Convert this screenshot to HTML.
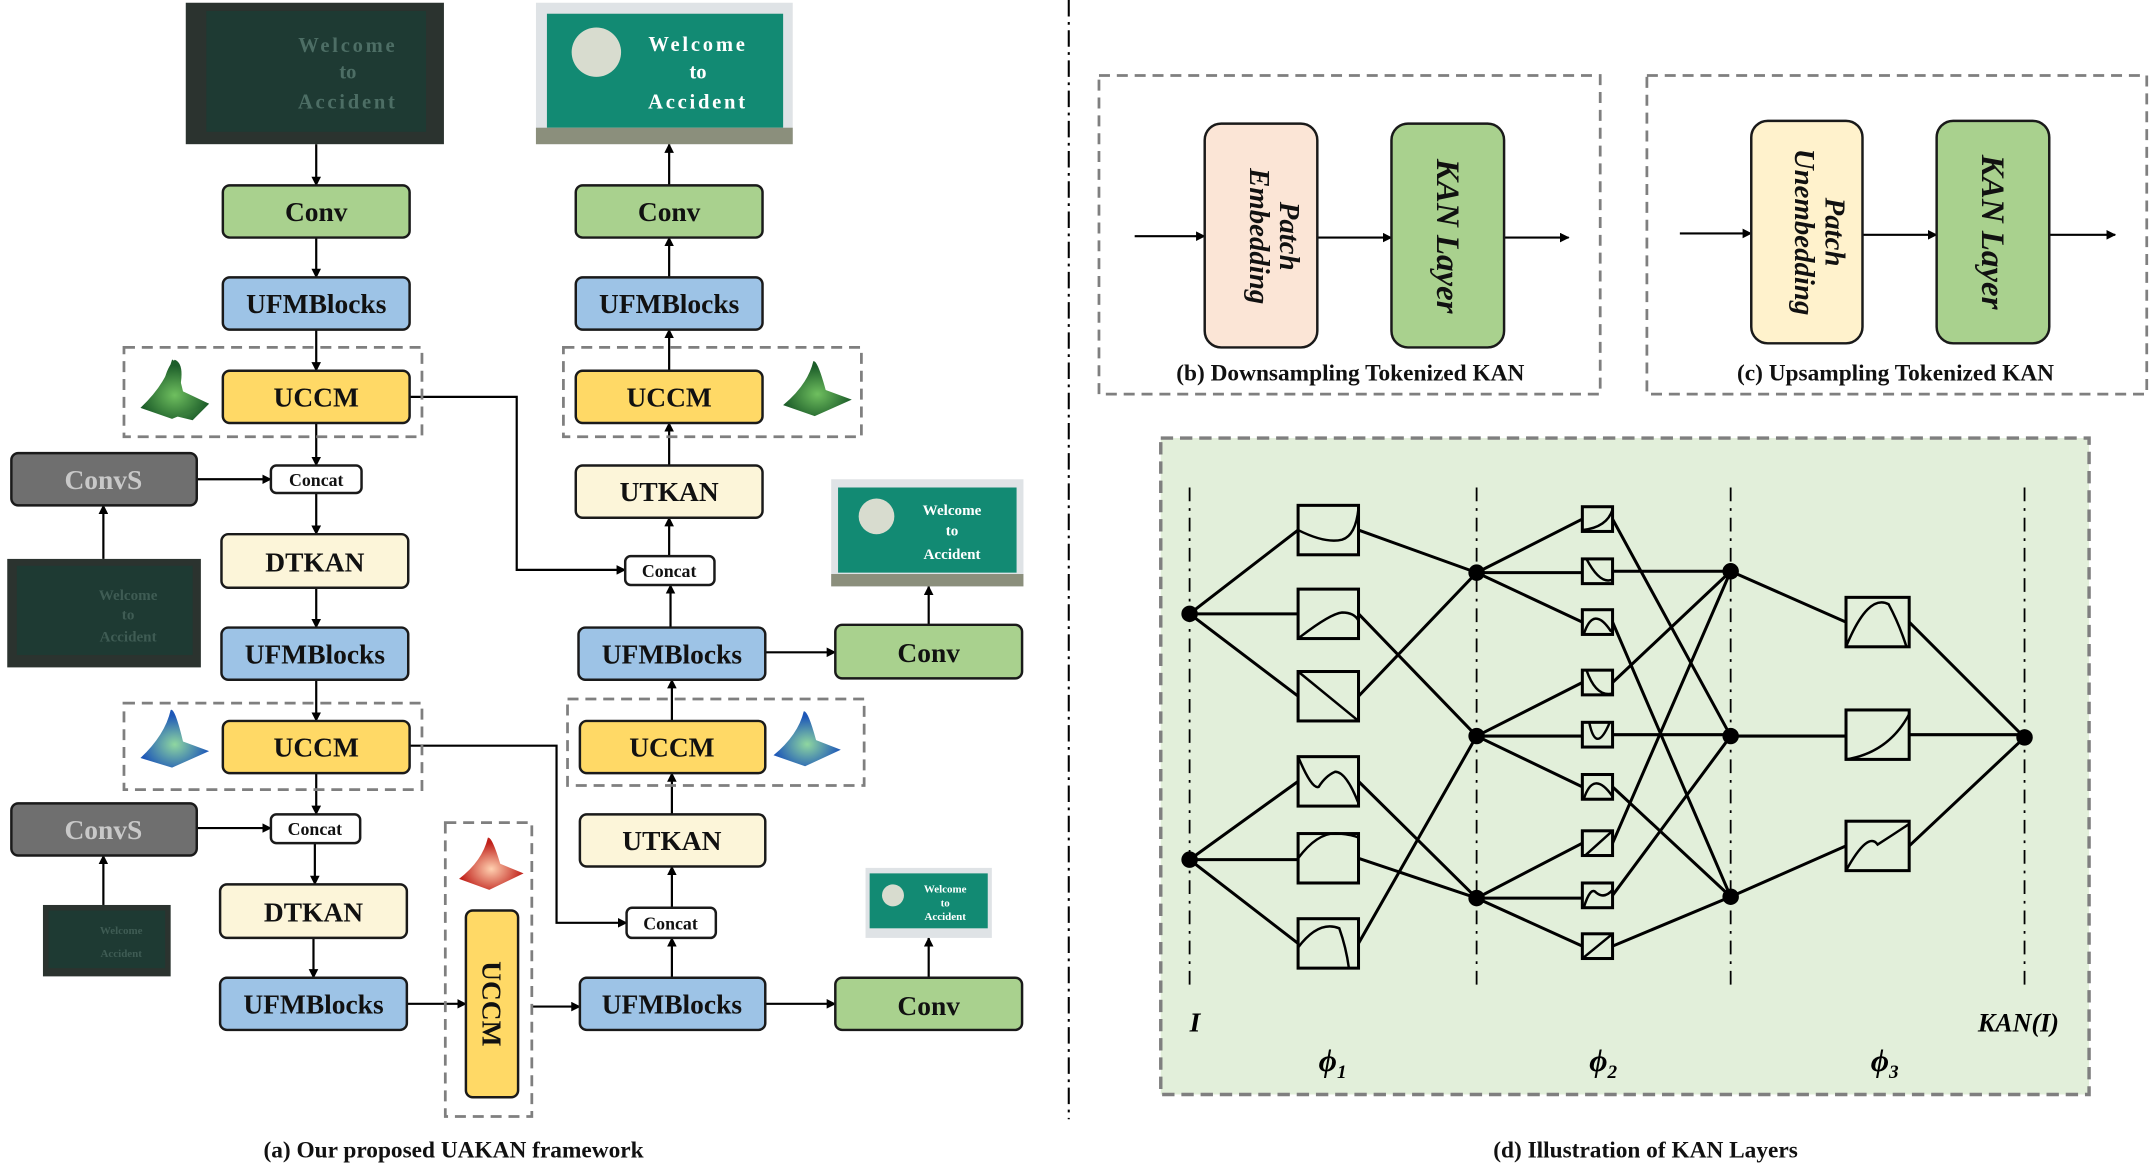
<!DOCTYPE html>
<html><head><meta charset="utf-8"><style>
html,body{margin:0;padding:0;background:#fff}
svg{display:block}
text{font-family:"Liberation Serif",serif;font-weight:bold}
</style></head><body>
<svg width="2154" height="1170" viewBox="0 0 1568 852" xmlns="http://www.w3.org/2000/svg">
<defs>
<marker id="a" viewBox="0 0 10 10" refX="9" refY="5" markerWidth="7" markerHeight="7" orient="auto" markerUnits="userSpaceOnUse"><path d="M0,0L10,5L0,10z" fill="#000"/></marker>
<radialGradient id="gg" cx="50%" cy="60%" r="50%"><stop offset="0" stop-color="#6fbf5f"/><stop offset="1" stop-color="#1d5e2a"/></radialGradient>
<radialGradient id="gb" cx="50%" cy="60%" r="50%"><stop offset="0" stop-color="#8fd7a0"/><stop offset="1" stop-color="#1e58b8"/></radialGradient>
<radialGradient id="gr" cx="50%" cy="60%" r="50%"><stop offset="0" stop-color="#ffd0b0"/><stop offset="1" stop-color="#c0201a"/></radialGradient>
</defs>
<g stroke="#000" stroke-width="1.6" fill="none" marker-end="url(#a)">
<!-- left column -->
<path d="M230,105V135"/><path d="M230,173V202"/><path d="M230,240V270"/><path d="M230,308V339"/>
<path d="M143,349H197"/><path d="M75,407V368"/><path d="M230,359V389"/><path d="M230,428V457"/>
<path d="M230,495V525"/><path d="M230,563V593"/><path d="M143,603H197"/><path d="M75,659V623"/>
<path d="M229,614V644"/><path d="M228,683V712"/><path d="M296,731H339"/><path d="M387,733H422"/>
<path d="M298,289H376V415H455"/><path d="M298,543H405V672H456"/>
<!-- middle column -->
<path d="M487,135V105"/><path d="M487,202V173"/><path d="M487,270V240"/><path d="M487,339V308"/>
<path d="M487,405V377"/><path d="M488,457V426"/><path d="M557,475H608"/><path d="M676,455V427"/>
<path d="M489,525V495"/><path d="M489,593V563"/><path d="M489,661V631"/><path d="M489,712V683"/>
<path d="M557,731H608"/><path d="M676,712V683"/>
<!-- b, c -->
<path d="M826,172H877"/><path d="M959,173H1013"/><path d="M1095,173H1142"/>
<path d="M1223,170H1275"/><path d="M1356,171H1410"/><path d="M1492,171H1540"/>
</g>
<!-- images -->
<g font-family="Liberation Sans" font-weight="bold">
<rect x="135" y="2" width="188" height="103" fill="#2b332f"/><rect x="150" y="8" width="160" height="88" fill="#1e3a33"/>
<text x="253" y="38" fill="#4d6e65" font-size="15" text-anchor="middle" letter-spacing="2">Welcome</text><text x="253" y="57" fill="#4d6e65" font-size="15" text-anchor="middle">to</text><text x="253" y="79" fill="#4d6e65" font-size="15" text-anchor="middle" letter-spacing="2">Accident</text>
<rect x="390" y="2" width="187" height="103" fill="#dfe3e6"/><rect x="398" y="10" width="172" height="83" fill="#128a73"/><rect x="390" y="93" width="187" height="12" fill="#8b8f7c"/>
<circle cx="434" cy="38" r="18" fill="#d8dccf"/>
<text x="508" y="37" fill="#fff" font-size="15" text-anchor="middle" letter-spacing="2">Welcome</text><text x="508" y="57" fill="#fff" font-size="15" text-anchor="middle">to</text><text x="508" y="79" fill="#fff" font-size="15" text-anchor="middle" letter-spacing="2">Accident</text>
<rect x="5" y="407" width="141" height="79" fill="#2b332f"/><rect x="12" y="412" width="128" height="65" fill="#1e3a33"/>
<text x="93" y="437" fill="#3f5c54" font-size="11" text-anchor="middle">Welcome</text><text x="93" y="451" fill="#3f5c54" font-size="11" text-anchor="middle">to</text><text x="93" y="467" fill="#3f5c54" font-size="11" text-anchor="middle">Accident</text>
<rect x="31" y="659" width="93" height="52" fill="#2b332f"/><rect x="35" y="663" width="85" height="42" fill="#1e3a33"/>
<text x="88" y="680" fill="#3f5c54" font-size="8" text-anchor="middle">Welcome</text><text x="88" y="697" fill="#3f5c54" font-size="8" text-anchor="middle">Accident</text>
<rect x="605" y="349" width="140" height="78" fill="#dfe3e6"/><rect x="610" y="355" width="130" height="62" fill="#128a73"/><rect x="605" y="418" width="140" height="9" fill="#8b8f7c"/>
<circle cx="638" cy="376" r="13" fill="#d8dccf"/>
<text x="693" y="375" fill="#fff" font-size="11" text-anchor="middle">Welcome</text><text x="693" y="390" fill="#fff" font-size="11" text-anchor="middle">to</text><text x="693" y="407" fill="#fff" font-size="11" text-anchor="middle">Accident</text>
<rect x="630" y="632" width="92" height="51" fill="#dfe3e6"/><rect x="633" y="636" width="86" height="40" fill="#128a73"/>
<circle cx="650" cy="652" r="8" fill="#d8dccf"/>
<text x="688" y="650" fill="#fff" font-size="8" text-anchor="middle">Welcome</text><text x="688" y="660" fill="#fff" font-size="8" text-anchor="middle">to</text><text x="688" y="670" fill="#fff" font-size="8" text-anchor="middle">Accident</text>
</g>
<!-- dashed groups -->
<g fill="none" stroke="#7f7f7f" stroke-width="2" stroke-dasharray="8,5">
<rect x="90" y="253" width="217" height="65"/><rect x="90" y="512" width="217" height="63"/>
<rect x="324" y="599" width="63" height="214"/>
<rect x="410" y="253" width="217" height="65"/><rect x="413" y="509" width="216" height="63"/>
<rect x="800" y="55" width="365" height="232"/><rect x="1199" y="55" width="364" height="232"/>
</g>
<!-- peaks -->
<path d="M103,297L130,286Q135,265 127,262Q120,268 118,285Z M103,297L140,306L152,294L130,286" fill="url(#gg)"/>
<path d="M102,297L125,305L152,294L133,285Q127,260 125,262Q120,280 102,297Z" fill="url(#gg)"/>
<path d="M102,552L125,559L152,547L133,540Q127,515 124,517Q120,535 102,552Z" fill="url(#gb)"/>
<path d="M570,295L593,303L620,291L601,284Q595,262 592,263Q588,280 570,295Z" fill="url(#gg)"/>
<path d="M563,550L586,558L612,546L594,539Q588,517 585,518Q581,535 563,550Z" fill="url(#gb)"/>
<path d="M334,640L356,648L381,636L364,629Q358,609 355,610Q351,627 334,640Z" fill="url(#gr)"/>
<!-- boxes -->
<g stroke="#1a1a1a" stroke-width="1.8">
<rect x="162" y="135" width="136" height="38" rx="5" fill="#a9d18e"/>
<rect x="162" y="202" width="136" height="38" rx="5" fill="#9dc3e6"/>
<rect x="162" y="270" width="136" height="38" rx="5" fill="#ffd966"/>
<rect x="197" y="339" width="66" height="20" rx="4" fill="#fff"/>
<rect x="8" y="330" width="135" height="38" rx="5" fill="#6f6f6f"/>
<rect x="161" y="389" width="136" height="39" rx="5" fill="#fcf5d9"/>
<rect x="161" y="457" width="136" height="38" rx="5" fill="#9dc3e6"/>
<rect x="162" y="525" width="136" height="38" rx="5" fill="#ffd966"/>
<rect x="197" y="593" width="65" height="21" rx="4" fill="#fff"/>
<rect x="8" y="585" width="135" height="38" rx="5" fill="#6f6f6f"/>
<rect x="160" y="644" width="136" height="39" rx="5" fill="#fcf5d9"/>
<rect x="160" y="712" width="136" height="38" rx="5" fill="#9dc3e6"/>
<rect x="339" y="663" width="38" height="136" rx="5" fill="#ffd966"/>
<rect x="419" y="135" width="136" height="38" rx="5" fill="#a9d18e"/>
<rect x="419" y="202" width="136" height="38" rx="5" fill="#9dc3e6"/>
<rect x="419" y="270" width="136" height="38" rx="5" fill="#ffd966"/>
<rect x="419" y="339" width="136" height="38" rx="5" fill="#fcf5d9"/>
<rect x="455" y="405" width="65" height="21" rx="4" fill="#fff"/>
<rect x="421" y="457" width="136" height="38" rx="5" fill="#9dc3e6"/>
<rect x="608" y="455" width="136" height="39" rx="5" fill="#a9d18e"/>
<rect x="422" y="525" width="135" height="38" rx="5" fill="#ffd966"/>
<rect x="422" y="593" width="135" height="38" rx="5" fill="#fcf5d9"/>
<rect x="456" y="661" width="65" height="22" rx="4" fill="#fff"/>
<rect x="422" y="712" width="135" height="38" rx="5" fill="#9dc3e6"/>
<rect x="608" y="712" width="136" height="38" rx="5" fill="#a9d18e"/>
<rect x="877" y="90" width="82" height="163" rx="12" fill="#fbe5d6"/>
<rect x="1013" y="90" width="82" height="163" rx="12" fill="#a9d18e"/>
<rect x="1275" y="88" width="81" height="162" rx="12" fill="#fff2cc"/>
<rect x="1410" y="88" width="82" height="162" rx="12" fill="#a9d18e"/>
</g>
<g font-size="20" text-anchor="middle" fill="#111">
<text x="230" y="161">Conv</text><text x="230" y="228">UFMBlocks</text><text x="230" y="296">UCCM</text>
<text x="230" y="354" font-size="13">Concat</text><text x="75" y="356" fill="#c8c8c8">ConvS</text>
<text x="229" y="416">DTKAN</text><text x="229" y="483">UFMBlocks</text><text x="230" y="551">UCCM</text>
<text x="229" y="608" font-size="13">Concat</text><text x="75" y="611" fill="#c8c8c8">ConvS</text>
<text x="228" y="671">DTKAN</text><text x="228" y="738">UFMBlocks</text>
<text transform="translate(351,731) rotate(90)">UCCM</text>
<text x="487" y="161">Conv</text><text x="487" y="228">UFMBlocks</text><text x="487" y="296">UCCM</text>
<text x="487" y="365">UTKAN</text><text x="487" y="420" font-size="13">Concat</text>
<text x="489" y="483">UFMBlocks</text><text x="676" y="482">Conv</text>
<text x="489" y="551">UCCM</text><text x="489" y="619">UTKAN</text><text x="488" y="677" font-size="13">Concat</text>
<text x="489" y="738">UFMBlocks</text><text x="676" y="739">Conv</text>
<g font-style="italic" font-size="21">
<text transform="translate(918,172) rotate(90)"><tspan x="0" y="-14">Patch</tspan><tspan x="0" y="8">Embedding</tspan></text>
<text transform="translate(1054,172) rotate(90)" font-size="24" y="8">KAN Layer</text>
<text transform="translate(1315,169) rotate(90)"><tspan x="0" y="-14">Patch</tspan><tspan x="0" y="8">Unembedding</tspan></text>
<text transform="translate(1451,169) rotate(90)" font-size="24" y="8">KAN Layer</text>
</g>
<text x="983" y="277" font-size="17">(b) Downsampling Tokenized KAN</text>
<text x="1380" y="277" font-size="17">(c) Upsampling Tokenized KAN</text>
<text x="330" y="843" font-size="17">(a) Our proposed UAKAN framework</text>
<text x="1198" y="843" font-size="17">(d) Illustration of KAN Layers</text>
</g>
<path d="M778,0V815" stroke="#000" stroke-width="1.5" stroke-dasharray="12,4,2,4"/>
<!-- d -->
<rect x="845" y="319" width="676" height="478" fill="#e2efda" stroke="#7f7f7f" stroke-width="2.5" stroke-dasharray="9,5"/>
<g stroke="#000" stroke-width="1.3" stroke-dasharray="10,5,2,5"><path d="M866,355V720M1075,355V720M1260,355V720M1474,355V720"/></g>
<g stroke="#000" stroke-width="2.2" fill="none">
<path d="M866,447L945,386M866,447H945M866,447L945,507M866,626L945,569M866,626H945M866,626L945,687"/>
<path d="M989,386L1075,417M989,447L1075,536M989,507L1075,417M989,569L1075,654M989,625L1075,654M989,687L1075,536"/>
<path d="M1075,417L1152,378M1075,417H1152M1075,417L1152,453M1075,536L1152,497M1075,536H1152M1075,536L1152,573M1075,654L1152,614M1075,654H1152M1075,654L1152,689"/>
<path d="M1174,378L1260,536M1174,416H1260M1174,453L1260,653M1174,497L1260,416M1174,535H1260M1174,573L1260,653M1174,614L1260,416M1174,652L1260,536M1174,689L1260,653"/>
<path d="M1260,416L1344,453M1260,536H1344M1260,653L1344,616M1390,453L1474,537M1390,535H1474M1390,616L1474,537"/>
</g>
<g stroke="#000" stroke-width="2.2" fill="#e2efda">
<rect x="945" y="368" width="44" height="36"/><rect x="945" y="429" width="44" height="36"/><rect x="945" y="489" width="44" height="36"/>
<rect x="945" y="551" width="44" height="36"/><rect x="945" y="607" width="44" height="36"/><rect x="945" y="669" width="44" height="36"/>
<rect x="1152" y="369" width="22" height="18"/><rect x="1152" y="407" width="22" height="18"/><rect x="1152" y="444" width="22" height="18"/>
<rect x="1152" y="488" width="22" height="18"/><rect x="1152" y="526" width="22" height="18"/><rect x="1152" y="564" width="22" height="18"/>
<rect x="1152" y="605" width="22" height="18"/><rect x="1152" y="643" width="22" height="18"/><rect x="1152" y="680" width="22" height="18"/>
<rect x="1344" y="435" width="46" height="36"/><rect x="1344" y="517" width="46" height="36"/><rect x="1344" y="598" width="46" height="36"/>
</g>
<g stroke="#000" stroke-width="1.8" fill="none">
<path d="M945,386Q965,396 977,393Q987,390 989,370"/><path d="M945,465Q968,447 977,446Q986,446 989,452"/><path d="M945,489L989,525"/>
<path d="M945,551Q955,575 960,573Q965,565 972,562Q980,562 989,585"/><path d="M945,625Q960,605 975,607Q985,608 989,610"/><path d="M945,690Q960,670 975,676Q980,690 982,705"/>
<path d="M1152,386Q1170,384 1174,371"/><path d="M1155,407Q1165,426 1174,422"/><path d="M1153,462Q1160,440 1173,460"/>
<path d="M1155,488Q1162,508 1174,505"/><path d="M1157,526Q1162,550 1172,526"/><path d="M1153,582Q1160,560 1174,580"/>
<path d="M1154,623L1174,605"/><path d="M1153,661Q1158,645 1162,650Q1168,655 1174,648"/><path d="M1152,698L1174,680"/>
<path d="M1344,471Q1360,432 1375,440Q1383,455 1388,471"/><path d="M1344,553Q1375,548 1390,520"/><path d="M1344,634Q1360,605 1367,615Q1378,608 1390,600"/>
</g>
<g fill="#000">
<circle cx="866" cy="447" r="6"/><circle cx="866" cy="626" r="6"/>
<circle cx="1075" cy="417" r="6"/><circle cx="1075" cy="536" r="6"/><circle cx="1075" cy="654" r="6"/>
<circle cx="1260" cy="416" r="6"/><circle cx="1260" cy="536" r="6"/><circle cx="1260" cy="653" r="6"/>
<circle cx="1474" cy="537" r="6"/>
</g>
<g font-style="italic" font-size="20" fill="#000">
<text x="866" y="751">I</text><text x="1440" y="751" font-size="19">KAN(I)</text>
<text x="960" y="780" font-size="23">ϕ<tspan font-size="14" dy="5">1</tspan></text>
<text x="1157" y="780" font-size="23">ϕ<tspan font-size="14" dy="5">2</tspan></text>
<text x="1362" y="780" font-size="23">ϕ<tspan font-size="14" dy="5">3</tspan></text>
</g>
</svg>
</body></html>
